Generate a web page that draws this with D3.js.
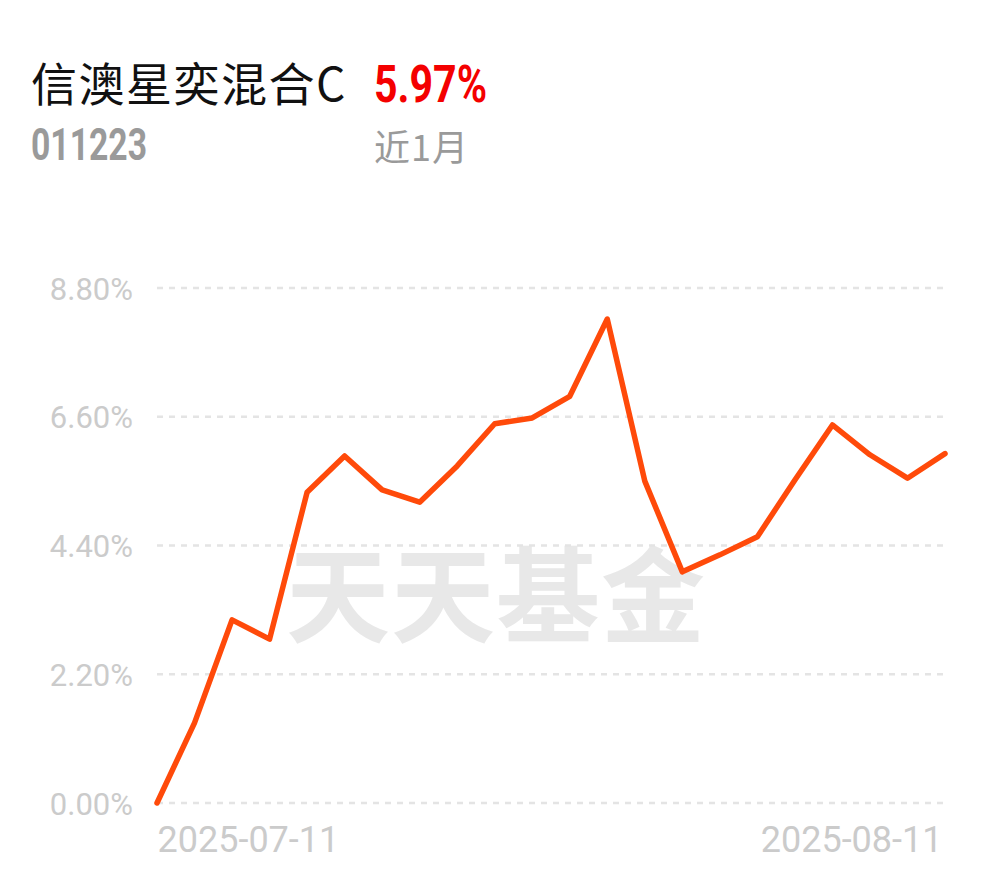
<!DOCTYPE html>
<html><head><meta charset="utf-8">
<script src="https://cdn.jsdelivr.net/npm/d3@7"></script>
<style>html,body{margin:0;padding:0;background:#fff;}svg{display:block;}</style>
</head><body>
<svg id="chart" width="990" height="878"></svg>
<script>
const dates = ["2025-07-11","2025-07-14","2025-07-15","2025-07-16","2025-07-17","2025-07-18","2025-07-21","2025-07-22","2025-07-23","2025-07-24","2025-07-25","2025-07-28","2025-07-29","2025-07-30","2025-07-31","2025-08-01","2025-08-04","2025-08-05","2025-08-06","2025-08-07","2025-08-08","2025-08-11"];
const values = [0.00,1.37,3.13,2.80,5.31,5.93,5.35,5.14,5.76,6.48,6.58,6.95,8.27,5.50,3.95,4.24,4.55,5.52,6.46,5.95,5.55,5.97];
const yTicks = [0, 2.2, 4.4, 6.6, 8.8];
const xTickLabels = ["2025-07-11","2025-08-11"];
const fundName = "信澳星奕混合C";
const fundCode = "011223";
const periodReturn = "5.97%";
const periodLabel = "近1月";
const watermark = "天天基金";

const svg = d3.select("#chart");
const x = d3.scalePoint().domain(dates).range([157, 945]);
const y = d3.scaleLinear().domain([0, 8.8]).range([803, 288]);

// header
svg.append("text").attr("x", 31).attr("y", 101)
  .attr("font-family", "'Noto Sans CJK SC', sans-serif").attr("font-size", 46)
  .attr("letter-spacing", 1.5)
  .attr("fill", "#111").text(fundName);
svg.append("text").attr("x", 374).attr("y", 102)
  .attr("font-family", "Roboto, sans-serif").attr("font-weight", "bold").attr("font-size", 52)
  .attr("textLength", 113).attr("lengthAdjust", "spacingAndGlyphs")
  .attr("fill", "#f40000").text(periodReturn);
svg.append("text").attr("x", 31).attr("y", 160)
  .attr("font-family", "Roboto, sans-serif").attr("font-weight", "bold").attr("font-size", 44)
  .attr("textLength", 116).attr("lengthAdjust", "spacingAndGlyphs")
  .attr("fill", "#9a9a9a").text(fundCode);
svg.append("text").attr("x", 374).attr("y", 161)
  .attr("font-family", "'Noto Sans CJK SC', sans-serif").attr("font-size", 36)
  .attr("letter-spacing", 1)
  .attr("fill", "#9a9a9a").text(periodLabel);

// watermark
svg.append("text").attr("x", 496).attr("y", 589)
  .attr("text-anchor", "middle").attr("dominant-baseline", "central")
  .attr("font-family", "'Noto Sans CJK SC', sans-serif").attr("font-weight", 700)
  .attr("font-size", 104).attr("letter-spacing", 1).attr("fill", "#e8e8e8").text(watermark);

// grid
const grid = svg.append("g");
grid.selectAll("line").data(yTicks).join("line")
  .attr("x1", 157).attr("x2", 945)
  .attr("y1", d => y(d)).attr("y2", d => y(d))
  .attr("stroke", "#e4e4e4").attr("stroke-width", 2.5)
  .attr("stroke-dasharray", "6,6");

// y axis labels
const yAxis = d3.axisLeft(y).tickValues(yTicks).tickSize(0).tickPadding(0)
  .tickFormat(d => d.toFixed(2) + "%");
const ya = svg.append("g").attr("transform", "translate(133,0)").call(yAxis);
ya.select(".domain").remove();
ya.selectAll("text").attr("font-family", "Roboto, sans-serif").attr("font-size", 31)
  .attr("fill", "#cbcbcb").attr("dy", "0.36em");

// x axis labels
const xAxis = d3.axisBottom(x).tickValues(xTickLabels).tickSize(0).tickPadding(0);
const xa = svg.append("g").attr("transform", "translate(0,826)").call(xAxis);
xa.select(".domain").remove();
xa.selectAll("text").attr("font-family", "Roboto, sans-serif").attr("font-size", 36)
  .attr("fill", "#cbcbcb").attr("dy", "0.71em")
  .attr("text-anchor", (d, i) => i === 0 ? "start" : "end")
  .attr("dx", (d, i) => i === 0 ? 0 : -3);

// line
const line = d3.line().x((d, i) => x(dates[i])).y(d => y(d));
svg.append("path").datum(values).attr("d", line)
  .attr("fill", "none").attr("stroke", "#ff4a0a").attr("stroke-width", 5.5)
  .attr("stroke-linejoin", "round").attr("stroke-linecap", "round");
</script>
</body></html>
